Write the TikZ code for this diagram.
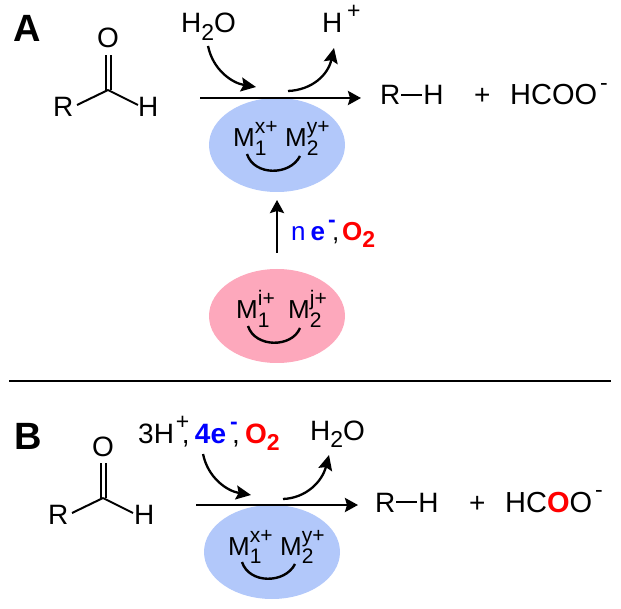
\documentclass[tikz,border=0pt]{standalone}
\usepackage{fontspec}
\setmainfont{Liberation Sans}
\usetikzlibrary{arrows.meta}
\usetikzlibrary{shapes.geometric}
\definecolor{ballblue}{RGB}{178,200,250}
\definecolor{ballpink}{RGB}{253,168,188}
\tikzset{
  % edges carry the bond and arrow looks
  every edge/.append style={line width=2pt},
  chem/.style={font=\fontsize{28}{28}\selectfont,inner sep=0pt,anchor=base west},
  ion/.style={chem,font=\fontsize{26}{26}\selectfont},
  prod/.style={chem,font=\fontsize{29}{29}\selectfont},
  panel/.style={font=\fontsize{38}{38}\selectfont\bfseries,inner sep=0pt,anchor=base west},
  react/.style={line width=2.6pt,-{Stealth[length=13pt,width=14pt,inset=2pt]}},
  curved/.style={line width=2.3pt,-{Stealth[length=15pt,width=14pt,inset=2.5pt]}},
  bond/.style={-},
  metalarc/.style={line width=2.4pt},
  ball/.style={ellipse,minimum width=136pt,minimum height=94pt,inner sep=0pt},
}
\newcommand{\sbsp}[2]{\rlap{\raisebox{-.33em}{\fontsize{21}{21}\selectfont #1}}\raisebox{.5em}{\fontsize{21}{21}\selectfont #2}}
\newcommand{\lowsub}[1]{\raisebox{-.26em}{\fontsize{23}{23}\selectfont #1}}
\newcommand{\upsup}[1]{\raisebox{.5em}{\fontsize{23}{23}\selectfont #1}}
\begin{document}
\begin{tikzpicture}[x=1pt,y=-1pt]
  \useasboundingbox (0,0) rectangle (621,609);

  % panel A
  \node[panel] (labelA) at (13,42) {A};
  \node[chem] (OA) at (97,48) {O};
  \node[chem] (RA) at (53,117) {R};
  \node[chem] (HA) at (138,117) {H};
  \coordinate (CA) at (108,90);
  \coordinate (CAl) at (105.5,90);
  \coordinate (CAr) at (110.5,90);
  \coordinate (OAl) at (105.5,55);
  \coordinate (OAr) at (110.5,55);
  \coordinate (RAe) at (77,105);
  \coordinate (HAe) at (138,105);
  \path
  (RAe) edge[bond] (CA)
  (CA) edge[bond] (HAe)
  (CAl) edge[bond] (OAl)
  (CAr) edge[bond] (OAr)
  ;

  \node[ball,fill=ballblue] (ballA) at (277,145) {};
  \node[ion] (M1A) at (233,147) {M\sbsp{1}{x+}};
  \node[ion] (M2A) at (285,147) {M\sbsp{2}{y+}};
  \coordinate (arcAl) at (247,154);
  \coordinate (arcAr) at (300,156);
  \draw[metalarc] (arcAl) .. controls (254,176) and (290,176) .. (arcAr);

  \coordinate (startA) at (200,98);
  \coordinate (endA) at (361,98);
  \node[chem] (RHA) at (380,105) {R\hspace{1pt}\rule[.32em]{21pt}{2pt}\hspace{1pt}H};
  \node[chem] (plusA) at (474,105) {+};
  \node[prod] (formA) at (510,105) {HCOO\hspace{3pt}\upsup{-}};
  \path (startA) edge[react] (endA);

  \node[chem] (waterA) at (181,33) {H\lowsub{2}O};
  \node[chem] (protonA) at (322,33) {H\,\upsup{+}};
  \coordinate (inA) at (256,87);
  \coordinate (outA) at (288,91);
  \coordinate (fromA) at (208,46);
  \coordinate (toA) at (334,48);
  \draw[curved] (fromA) .. controls (213,70) and (232,83) .. (inA);
  \draw[curved] (outA) .. controls (312,90) and (328,75) .. (toA);

  % activation
  \node[ball,fill=ballpink] (ballP) at (277,316) {};
  \node[ion] (M1P) at (236,319) {M\sbsp{1}{i+}};
  \node[ion] (M2P) at (288,319) {M\sbsp{2}{j+}};
  \coordinate (arcPl) at (248,326);
  \coordinate (arcPr) at (300,328);
  \draw[metalarc] (arcPl) .. controls (255,348) and (292,348) .. (arcPr);
  \coordinate (riseS) at (277,253);
  \coordinate (riseE) at (277,200);
  \path (riseS) edge[react] (riseE);
  \node[ion] (elecA) at (291,241) {\textcolor{blue}{n\hspace{5pt}\textbf{e}\hspace{3pt}\rlap{\upsup{\textbf{-}}}}\hspace{4pt}\rlap{,}\hspace{10pt}\textcolor{red}{\textbf{O\lowsub{2}}}};

  \coordinate (ruleL) at (9,381);
  \coordinate (ruleR) at (611,381);
  \path (ruleL) edge[bond,line width=1.2pt] (ruleR);

  % panel B
  \node[panel] (labelB) at (14,449) {B};
  \node[chem] (OB) at (92,456) {O};
  \node[chem] (RB) at (48,524) {R};
  \node[chem] (HB) at (134,524) {H};
  \coordinate (CB) at (103,498);
  \coordinate (CBl) at (100.5,498);
  \coordinate (CBr) at (105.5,498);
  \coordinate (OBl) at (100.5,463);
  \coordinate (OBr) at (105.5,463);
  \coordinate (RBe) at (72,513);
  \coordinate (HBe) at (133,513);
  \path
  (RBe) edge[bond] (CB)
  (CB) edge[bond] (HBe)
  (CBl) edge[bond] (OBl)
  (CBr) edge[bond] (OBr)
  ;

  \node[ball,fill=ballblue] (ballB) at (272,552) {};
  \node[ion] (M1B) at (228,555) {M\sbsp{1}{x+}};
  \node[ion] (M2B) at (280,555) {M\sbsp{2}{y+}};
  \coordinate (arcBl) at (242,562);
  \coordinate (arcBr) at (295,564);
  \draw[metalarc] (arcBl) .. controls (249,584) and (285,584) .. (arcBr);

  \coordinate (startB) at (196,505);
  \coordinate (endB) at (358,505);
  \node[chem] (RHB) at (375,512) {R\hspace{1pt}\rule[.32em]{21pt}{2pt}\hspace{1pt}H};
  \node[chem] (plusB) at (469,512) {+};
  \node[prod] (formB) at (505,512) {HC\textcolor{red}{\textbf{O}}O\hspace{3pt}\upsup{-}};
  \path (startB) edge[react] (endB);

  \node[chem] (mixB) at (138,443) {3H\hspace{2pt}\rlap{\upsup{+}}\hspace{6pt}\rlap{,}\hspace{13pt}\textcolor{blue}{\textbf{4e}\hspace{4pt}\rlap{\upsup{\textbf{-}}}}\hspace{2pt}\rlap{,}\hspace{13pt}\textcolor{red}{\textbf{O\lowsub{2}}}};
  \node[chem] (waterB) at (310,440) {H\lowsub{2}O};
  \coordinate (inB) at (251,495);
  \coordinate (outB) at (283,499);
  \coordinate (fromB) at (203,454);
  \coordinate (toB) at (329,455);
  \draw[curved] (fromB) .. controls (208,478) and (227,491) .. (inB);
  \draw[curved] (outB) .. controls (306,498) and (322,482) .. (toB);
\end{tikzpicture}
\end{document}
